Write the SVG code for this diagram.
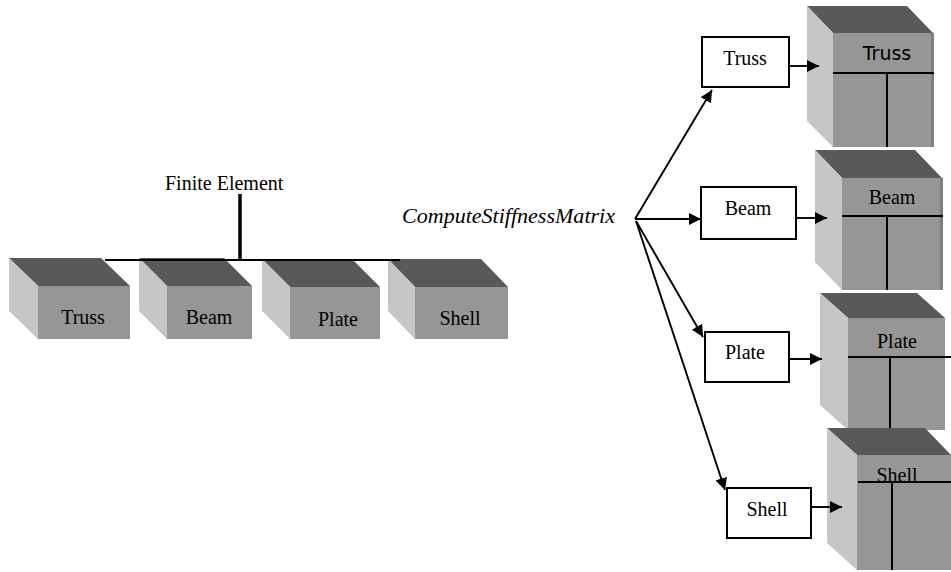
<svg xmlns="http://www.w3.org/2000/svg" width="951" height="572" viewBox="0 0 951 572">
  <defs>
    <marker id="arrow" viewBox="0 0 10 10" refX="10" refY="5" markerWidth="12" markerHeight="12" markerUnits="userSpaceOnUse" orient="auto">
      <path d="M0,0 L10,5 L0,10 z" fill="#000"/>
    </marker>
    <style>
      .top { fill: #595959; }
      .side { fill: #c6c6c6; }
      .front { fill: #969696; }
      .edge { fill: #7e7e7e; }
      .serif { font-family: "Liberation Serif", "Times New Roman", serif; font-size: 20px; fill: #000; }
      .sans { font-family: "DejaVu Sans", Verdana, sans-serif; font-size: 19px; fill: #000; }
      .mid { text-anchor: middle; }
      .box { fill: #fff; stroke: #000; stroke-width: 2; }
      .conn { stroke: #000; stroke-width: 1.9; fill: none; }
      .div { stroke: #000; stroke-width: 2; }
    </style>
  </defs>
  <rect width="951" height="572" fill="#fff"/>

  <!-- Base class label -->
  <g id="finite-element">
    <text class="serif" x="165" y="190" font-size="21">Finite Element</text>
  </g>

  <!-- Derived element blocks -->
  <g id="left-truss">
    <polygon class="top" points="9,258 101,258 130,286 38,286"/>
    <polygon class="side" points="9,258 38,286 38,339 9,311"/>
    <rect class="front" x="38" y="286" width="92" height="53"/>
    <text class="serif mid" x="83" y="324" font-size="21">Truss</text>
  </g>
  <g id="left-beam">
    <polygon class="top" points="139,258 224,258 252,286 167,286"/>
    <polygon class="side" points="139,258 167,286 167,339 139,311"/>
    <rect class="front" x="167" y="286" width="85" height="53"/>
    <text class="serif mid" x="209" y="324" font-size="21">Beam</text>
  </g>
  <g id="left-plate">
    <polygon class="top" points="262,259 352,259 380,287 290,287"/>
    <polygon class="side" points="262,259 290,287 290,339 262,311"/>
    <rect class="front" x="290" y="287" width="90" height="52"/>
    <text class="serif mid" x="338" y="326" font-size="21">Plate</text>
  </g>
  <g id="left-shell">
    <polygon class="top" points="388,259 481,259 508,287 415,287"/>
    <polygon class="side" points="388,259 415,287 415,339 388,311"/>
    <rect class="front" x="415" y="287" width="93" height="52"/>
    <text class="serif mid" x="460" y="325" font-size="21">Shell</text>
  </g>

  <!-- Method label -->
  <g id="compute-stiffness">
    <text class="serif" x="402" y="223" font-size="20" font-style="italic" textLength="213" lengthAdjust="spacingAndGlyphs">ComputeStiffnessMatrix</text>
  </g>

  <!-- Method implementations -->
  <g id="box-truss">
    <rect class="box" x="702" y="37" width="87" height="50"/>
    <text class="serif mid" x="745" y="65" font-size="21">Truss</text>
  </g>
  <g id="box-beam">
    <rect class="box" x="701" y="187" width="95" height="52"/>
    <text class="serif mid" x="748" y="215" font-size="21">Beam</text>
  </g>
  <g id="box-plate">
    <rect class="box" x="705" y="332" width="84" height="50"/>
    <text class="serif mid" x="745" y="359" font-size="21">Plate</text>
  </g>
  <g id="box-shell">
    <rect class="box" x="727" y="488" width="84" height="50"/>
    <text class="serif mid" x="767" y="516" font-size="21">Shell</text>
  </g>

  <!-- Element classes with data and method compartments -->
  <g id="class-truss">
    <polygon class="top" points="807,6 907,6 933,33 833,33"/>
    <polygon class="side" points="807,6 833,33 833,147 807,121"/>
    <rect class="front" x="833" y="33" width="100" height="114"/>
    <rect class="edge" x="931" y="33" width="3" height="114"/>
    <line class="div" x1="833" y1="73" x2="934" y2="73"/>
    <line class="div" x1="887" y1="73" x2="887" y2="147"/>
    <text class="sans mid" x="887" y="60" font-size="19.5">Truss</text>
  </g>
  <g id="class-beam">
    <polygon class="top" points="815,150 915,150 942,178 842,178"/>
    <polygon class="side" points="815,150 842,178 842,290 815,262"/>
    <rect class="front" x="842" y="178" width="100" height="112"/>
    <rect class="edge" x="940" y="178" width="3" height="112"/>
    <line class="div" x1="842" y1="216" x2="943" y2="216"/>
    <line class="div" x1="887" y1="216" x2="887" y2="290"/>
    <text class="serif mid" x="892" y="204">Beam</text>
  </g>
  <g id="class-plate">
    <polygon class="top" points="820,293 917,293 945,318 848,318"/>
    <polygon class="side" points="820,293 848,318 848,430 820,405"/>
    <rect class="front" x="848" y="318" width="97" height="112"/>
    <line class="div" x1="848" y1="357" x2="951" y2="357"/>
    <line class="div" x1="890" y1="357" x2="890" y2="430"/>
    <text class="serif mid" x="897" y="348">Plate</text>
  </g>
  <g id="class-shell">
    <polygon class="top" points="827,428 925,428 951,455 857,455"/>
    <polygon class="side" points="827,428 857,455 857,570 827,543"/>
    <rect class="front" x="857" y="455" width="94" height="115"/>
    <line class="div" x1="858" y1="482" x2="951" y2="482"/>
    <line class="div" x1="892" y1="482" x2="892" y2="570"/>
    <text class="serif mid" x="897" y="482">Shell</text>
  </g>

  <!-- Connectors -->
  <g id="connectors">
    <line x1="105" y1="260" x2="400" y2="260" stroke="#000" stroke-width="2"/>
    <line x1="240" y1="194" x2="240" y2="260" stroke="#000" stroke-width="3.5"/>

    <line class="conn" x1="635" y1="219" x2="712" y2="90" marker-end="url(#arrow)"/>
    <line class="conn" x1="635" y1="219" x2="701" y2="219" marker-end="url(#arrow)"/>
    <line class="conn" x1="636" y1="221" x2="703" y2="337" marker-end="url(#arrow)"/>
    <line class="conn" x1="636" y1="221" x2="725" y2="490" marker-end="url(#arrow)"/>

    <line class="conn" x1="789" y1="66" x2="819" y2="66" marker-end="url(#arrow)"/>
    <line class="conn" x1="796" y1="218" x2="827" y2="218" marker-end="url(#arrow)"/>
    <line class="conn" x1="789" y1="359" x2="822" y2="359" marker-end="url(#arrow)"/>
    <line class="conn" x1="811" y1="507" x2="842" y2="507" marker-end="url(#arrow)"/>
  </g>
</svg>
